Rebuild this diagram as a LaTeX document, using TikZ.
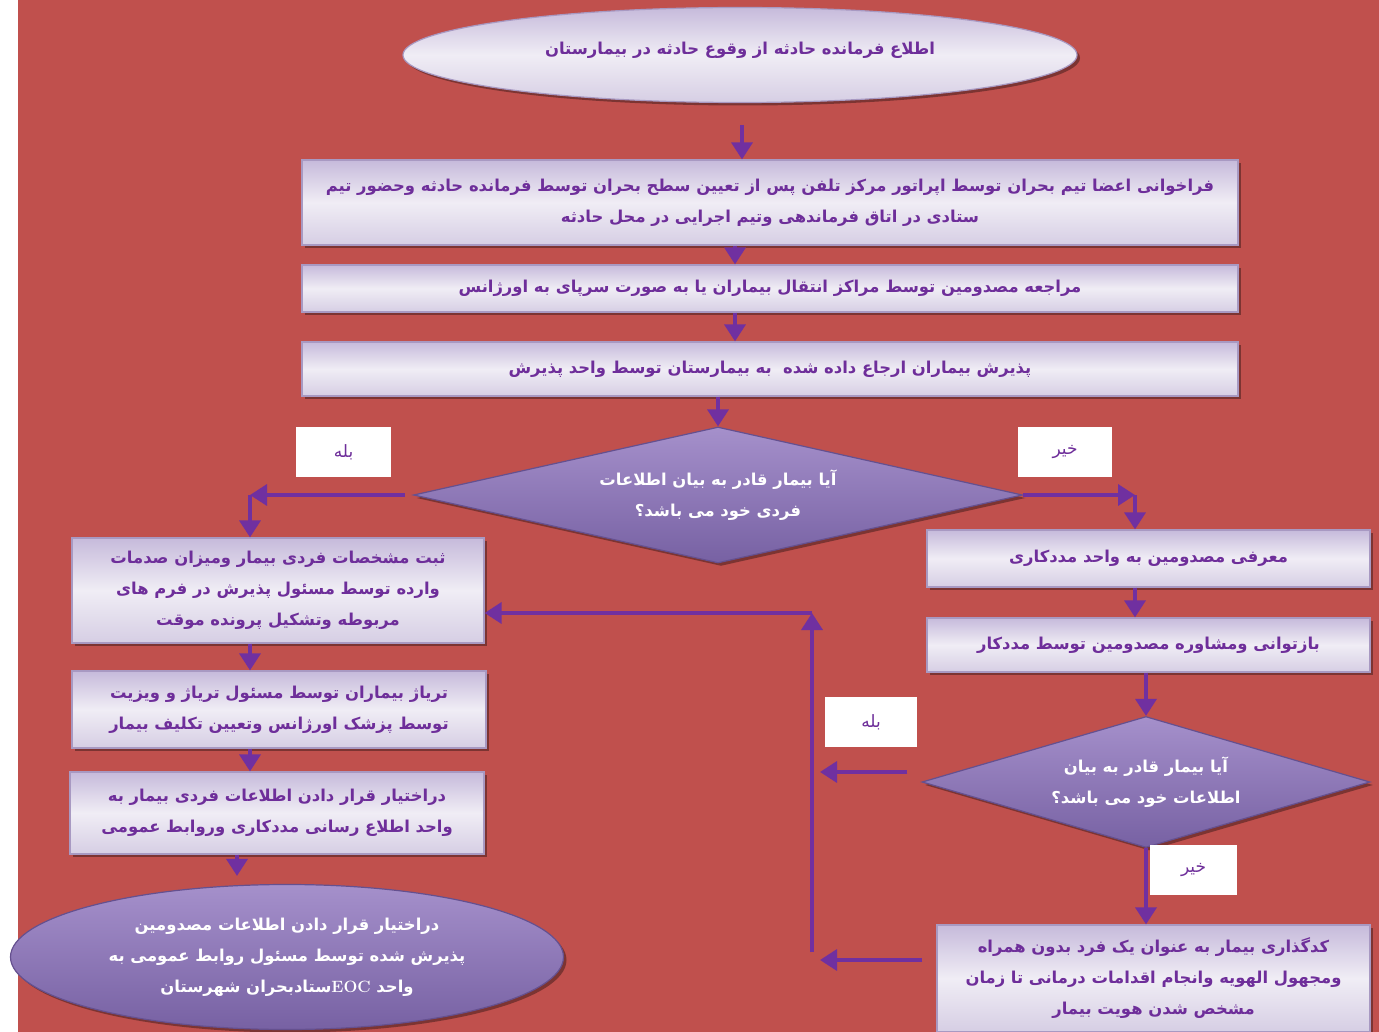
\documentclass[tikz,border=0pt]{standalone}
\usepackage{fontspec}
\usetikzlibrary{shapes.geometric,arrows.meta,shadows}
\TeXXeTstate=1
\newfontfamily\arabicfont[Script=Arabic]{DejaVu Sans}
\newcommand{\myR}[1]{\beginR #1\endR}
\definecolor{bgred}{HTML}{C0504D}
\definecolor{lineP}{HTML}{7030A0}
\definecolor{txtP}{HTML}{6E2E9A}
\definecolor{lavT}{HTML}{C6BADB}
\definecolor{lavM}{HTML}{F0EDF5}
\definecolor{lavB}{HTML}{D6CEE4}
\definecolor{lavD}{HTML}{A899C2}
\definecolor{dTop}{HTML}{A590CB}
\definecolor{dBot}{HTML}{7761A3}
\definecolor{dDraw}{HTML}{65508F}
\tikzset{
  boxst/.style={rectangle, inner sep=0pt, top color=lavT, bottom color=lavB, middle color=lavM,
    draw=lavD, line width=1.2pt, align=center, text=txtP,
    font=\arabicfont\bfseries\fontsize{16.4}{31}\selectfont,
    drop shadow={shadow xshift=3pt, shadow yshift=-3pt, opacity=0.35, fill=black}},
  lightell/.style={ellipse, inner sep=0pt, top color=lavT, bottom color=lavB, middle color=lavM,
    draw=lavD, line width=1.2pt, align=center, text=txtP,
    font=\arabicfont\bfseries\fontsize{16.4}{31}\selectfont,
    drop shadow={shadow xshift=3pt, shadow yshift=-3pt, opacity=0.35, fill=black}},
  darkell/.style={ellipse, inner sep=0pt, top color=dTop, bottom color=dBot,
    draw=dDraw, line width=1.2pt, align=center, text=white,
    font=\arabicfont\bfseries\fontsize{16.4}{31}\selectfont,
    drop shadow={shadow xshift=3pt, shadow yshift=-3pt, opacity=0.35, fill=black}},
  decide/.style={diamond, inner sep=0pt, top color=dTop, bottom color=dBot,
    draw=dDraw, line width=1.2pt, align=center, text=white,
    font=\arabicfont\bfseries\fontsize{16.4}{31}\selectfont,
    drop shadow={shadow xshift=3pt, shadow yshift=-3pt, opacity=0.35, fill=black}},
  tag/.style={rectangle, fill=white, inner sep=0pt, text=txtP,
    font=\arabicfont\fontsize{17}{20}\selectfont},
  arr/.style={draw=lineP, line width=3.5pt, -{Triangle[length=17pt,width=21pt]}}
}
\begin{document}
\begin{tikzpicture}[x=1pt,y=-1pt]
\useasboundingbox (0,0) rectangle (1379,1032);
\fill[white] (0,0) rectangle (1379,1032);
\fill[bgred] (18,0) rectangle (1379,1032);

% nodes
\node[lightell, minimum width=674pt, minimum height=95pt] (e1) at (740,55)
  {\raisebox{14pt}{\myR{اطلاع فرمانده حادثه از وقوع حادثه در بیمارستان}}};
\node[boxst, minimum width=936pt, minimum height=85pt] (b1) at (770,202.5)
  {\myR{فراخوانی اعضا تیم بحران توسط اپراتور مرکز تلفن پس از تعیین سطح بحران توسط فرمانده حادثه وحضور تیم}\\
   \myR{ستادی در اتاق فرماندهی وتیم اجرایی در محل حادثه}};
\node[boxst, minimum width=936pt, minimum height=47pt] (b2) at (770,288.5)
  {\myR{مراجعه مصدومین توسط مراکز انتقال بیماران یا به صورت سرپای به اورژانس}};
\node[boxst, minimum width=936pt, minimum height=54pt] (b3) at (770,369)
  {\myR{پذیرش بیماران ارجاع داده شده \ به بیمارستان توسط واحد پذیرش}};
\node[decide, aspect=4.48, minimum width=609pt, minimum height=136pt] (d1) at (718,495)
  {\myR{آیا بیمار قادر به بیان اطلاعات}\\ \myR{فردی خود می باشد؟}};
\node[tag, minimum width=95pt, minimum height=50pt] (t1) at (343.5,452) {\myR{بله}};
\node[tag, minimum width=94pt, minimum height=50pt] (t2) at (1065,452) {\myR{خیر}};

\node[boxst, minimum width=412pt, minimum height=105pt] (b4) at (278,590.5)
  {\myR{ثبت مشخصات فردی بیمار ومیزان صدمات}\\
   \myR{وارده توسط مسئول پذیرش در فرم های}\\
   \myR{مربوطه وتشکیل پرونده موقت}};
\node[boxst, minimum width=414pt, minimum height=77pt] (b5) at (279,709.5)
  {\myR{تریاژ بیماران توسط مسئول تریاژ و ویزیت}\\
   \myR{توسط پزشک اورژانس وتعیین تکلیف بیمار}};
\node[boxst, minimum width=414pt, minimum height=82pt] (b6) at (277,813)
  {\myR{دراختیار قرار دادن اطلاعات فردی بیمار به}\\
   \myR{واحد اطلاع رسانی مددکاری وروابط عمومی}};
\node[darkell, minimum width=553pt, minimum height=145pt] (e2) at (287,957)
  {\myR{دراختیار قرار دادن اطلاعات مصدومین}\\
   \myR{پذیرش شده توسط مسئول روابط عمومی به}\\
   \myR{واحد \beginL{\rmfamily\bfseries EOC}\endL ستادبحران شهرستان}};

\node[boxst, minimum width=443pt, minimum height=57pt] (b7) at (1148.5,558.5)
  {\myR{معرفی مصدومین به واحد مددکاری}};
\node[boxst, minimum width=443pt, minimum height=54pt] (b8) at (1148.5,645)
  {\myR{بازتوانی ومشاوره مصدومین توسط مددکار}};
\node[decide, aspect=3.42, minimum width=448pt, minimum height=131pt] (d2) at (1146,782)
  {\myR{آیا بیمار قادر به بیان}\\ \myR{اطلاعات خود می باشد؟}};
\node[tag, minimum width=92pt, minimum height=50pt] (t3) at (871,722) {\myR{بله}};
\node[tag, minimum width=87pt, minimum height=50pt] (t4) at (1193.5,870) {\myR{خیر}};
\node[boxst, minimum width=433pt, minimum height=107pt] (b9) at (1153.5,978.5)
  {\myR{کدگذاری بیمار به عنوان یک فرد بدون همراه}\\
   \myR{ومجهول الهویه وانجام اقدامات درمانی تا زمان}\\
   \myR{مشخص شدن هویت بیمار}};

% helper coordinates
\coordinate (c0) at (742,125);
\coordinate (x735) at (735,0);
\coordinate (cL) at (250,495);
\coordinate (cR) at (1135,495);
\coordinate (x237) at (237,0);
\coordinate (cY1) at (820,772);
\coordinate (cY2) at (820,960);
\coordinate (cB) at (812,952);
\coordinate (cT) at (812,613);

% connectors
\draw[arr] (c0) -- (b1.north -| c0);
\draw[arr] (b1.south -| x735) -- (b2.north -| x735);
\draw[arr] (b2.south -| x735) -- (b3.north -| x735);
\draw[arr] (b3.south -| d1.north) -- (d1.north);
\draw[arr] ([xshift=-8pt]d1.west) -- (cL);
\draw[arr] (cL) -- (b4.north -| cL);
\draw[arr] (d1.east) -- (cR);
\draw[arr] (cR) -- (b7.north -| cR);
\draw[arr] (b4.south -| cL) -- (b5.north -| cL);
\draw[arr] (b5.south -| cL) -- (b6.north -| cL);
\draw[arr] (b6.south -| x237) -- ([yshift=8pt]e2.north -| x237);
\draw[arr] (b7.south -| cR) -- (b8.north -| cR);
\draw[arr] (b8.south -| d2.north) -- (d2.north);
\draw[arr] ([xshift=-14pt]d2.west |- cY1) -- (cY1);
\draw[arr] (d2.south) -- (b9.north -| d2.south);
\draw[arr] ([xshift=-14pt]b9.west |- cY2) -- (cY2);
\draw[arr] (cB) -- (cT);
\draw[arr] (cT) -- (b4.east |- cT);
\end{tikzpicture}
\end{document}
